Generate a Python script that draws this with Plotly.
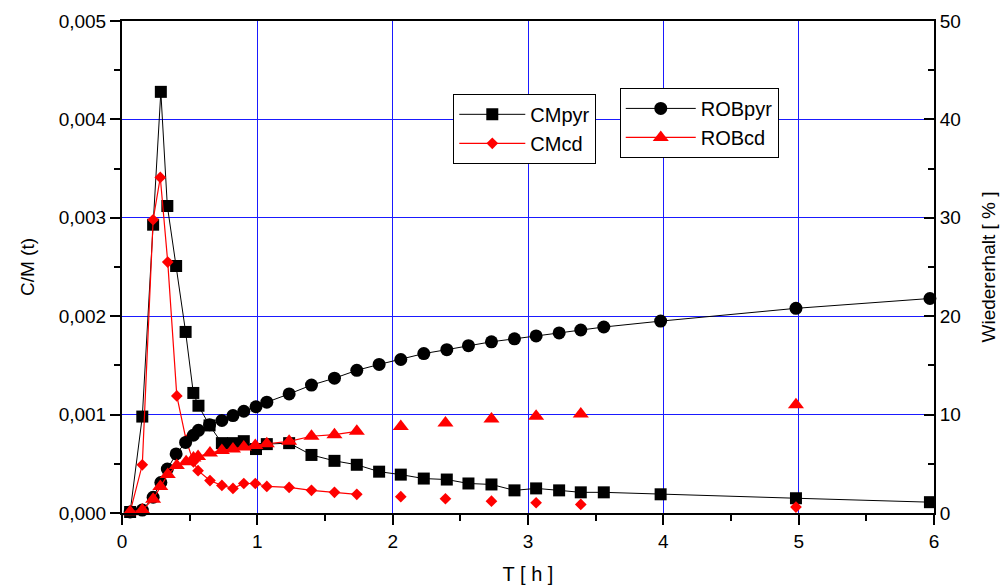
import plotly.graph_objects as go

# ---- data ----
t_pyr = [0.06, 0.15, 0.23, 0.287, 0.335, 0.40, 0.47, 0.527, 0.565, 0.647, 0.738, 0.82,
         0.90, 0.99, 1.07, 1.235, 1.40, 1.57, 1.735, 1.90, 2.06, 2.23, 2.40, 2.56, 2.73,
         2.90, 3.06, 3.23, 3.39, 3.56, 3.98, 4.98, 5.97]
cm_pyr = [0.00001, 0.00098, 0.00293, 0.00428, 0.00312, 0.00251, 0.00184, 0.00122, 0.00109,
          0.00089, 0.00071, 0.00071, 0.00073, 0.00065, 0.00070, 0.00071, 0.00059, 0.00053,
          0.00049, 0.00042, 0.00039, 0.00035, 0.00034, 0.00030, 0.00029, 0.00023, 0.00025,
          0.00023, 0.00021, 0.00021, 0.00019, 0.00015, 0.00011]
rob_pyr = [0.1, 0.3, 1.6, 3.1, 4.46, 6.0, 7.17, 7.9, 8.4, 8.98, 9.4, 9.9, 10.34, 10.8, 11.26,
           12.1, 13.0, 13.7, 14.5, 15.1, 15.6, 16.2, 16.6, 17.0, 17.4, 17.7, 18.0, 18.3,
           18.6, 18.9, 19.5, 20.8, 21.8]

t_cd = [0.06, 0.15, 0.23, 0.283, 0.338, 0.405, 0.474, 0.528, 0.562, 0.65, 0.738, 0.82,
        0.90, 0.985, 1.07, 1.235, 1.40, 1.57, 1.735]
cm_cd = [0.00001, 0.00049, 0.00298, 0.00341, 0.00255, 0.00119, 0.00074, 0.00052, 0.00043,
         0.00033, 0.00028, 0.00025, 0.00030, 0.00030, 0.00027, 0.00026, 0.00023, 0.00021,
         0.00019]
rob_cd = [0.13, 0.3, 1.4, 2.7, 3.9, 4.83, 5.2, 5.6, 5.75, 6.1, 6.36, 6.5, 6.7, 6.87, 7.04,
          7.28, 7.8, 7.96, 8.3]

t_cd_late = [2.06, 2.39, 2.73, 3.06, 3.39, 4.98]
cm_cd_late = [0.000166, 0.000145, 0.00012, 0.000104, 0.000087, 0.00006]
rob_cd_late = [8.8, 9.15, 9.56, 9.84, 10.07, 11.0]

x_ticks = [0, 1, 2, 3, 4, 5, 6]
y_ticks = [0, 0.001, 0.002, 0.003, 0.004, 0.005]
y2_ticks = [0, 10, 20, 30, 40, 50]

RED = "#ff0000"
BLACK = "#000000"
GRID = "#1a1aff"
FONT = "Liberation Sans, Arial, sans-serif"

fig = go.Figure()

fig.add_trace(go.Scatter(
    x=t_pyr, y=cm_pyr, name="CMpyr", mode="lines+markers", legend="legend",
    line=dict(color=BLACK, width=1), marker=dict(symbol="square", size=12, color=BLACK),
    cliponaxis=False))
fig.add_trace(go.Scatter(
    x=t_cd, y=cm_cd, name="CMcd", mode="lines+markers", legend="legend",
    line=dict(color=RED, width=1.2), marker=dict(symbol="diamond", size=9, color=RED),
    cliponaxis=False))
fig.add_trace(go.Scatter(
    x=t_cd_late, y=cm_cd_late, name="CMcd", mode="markers", showlegend=False,
    marker=dict(symbol="diamond", size=9, color=RED), cliponaxis=False))
fig.add_trace(go.Scatter(
    x=t_pyr, y=rob_pyr, name="ROBpyr", mode="lines+markers", yaxis="y2", legend="legend2",
    line=dict(color=BLACK, width=1), marker=dict(symbol="circle", size=13, color=BLACK),
    cliponaxis=False))
fig.add_trace(go.Scatter(
    x=t_cd, y=rob_cd, name="ROBcd", mode="lines+markers", yaxis="y2", legend="legend2",
    line=dict(color=RED, width=1.2), marker=dict(symbol="triangle-up", size=14, color=RED),
    cliponaxis=False))
fig.add_trace(go.Scatter(
    x=t_cd_late, y=rob_cd_late, name="ROBcd", mode="markers", yaxis="y2", showlegend=False,
    marker=dict(symbol="triangle-up", size=14, color=RED), cliponaxis=False))

fig.update_layout(
    width=1000, height=579,
    margin=dict(l=114, r=74, t=13, b=74, autoexpand=False),
    paper_bgcolor="white", plot_bgcolor="white",
    separators=",.",
    font=dict(family=FONT, size=19, color="black"),
    xaxis=dict(
        range=[0, 6], tickvals=x_ticks, ticktext=[str(v) for v in x_ticks],
        showgrid=True, gridcolor=GRID, gridwidth=1.3, automargin=False,
        showline=True, linecolor="black", linewidth=2, mirror=True,
        ticks="outside", ticklen=10, tickwidth=2, tickcolor="black",
        minor=dict(dtick=0.5, ticklen=6, tickwidth=2, tickcolor="black", ticks="outside", showgrid=False),
        zeroline=False,
        title=dict(text="T [ h ]", font=dict(size=20), standoff=16),
        tickfont=dict(size=19),
    ),
    yaxis=dict(
        range=[0, 0.005], tickvals=y_ticks, tickformat=".3f",
        showgrid=True, gridcolor=GRID, gridwidth=1.3, automargin=False,
        showline=True, linecolor="black", linewidth=2,
        ticks="outside", ticklen=10, tickwidth=2, tickcolor="black",
        minor=dict(dtick=0.0005, ticklen=6, tickwidth=2, tickcolor="black", ticks="outside", showgrid=False),
        zeroline=False,
        title=dict(text="C/M (t)", font=dict(size=19), standoff=19),
        tickfont=dict(size=19),
    ),
    yaxis2=dict(
        range=[0, 50], tickvals=y2_ticks, overlaying="y", side="right",
        showgrid=False, automargin=False,
        showline=True, linecolor="black", linewidth=2,
        ticks="inside", ticklen=10, tickwidth=2, tickcolor="black",
        minor=dict(dtick=5, ticklen=6, tickwidth=2, tickcolor="black", ticks="inside", showgrid=False),
        zeroline=False,
        title=dict(text="Wiedererhalt [ % ]", font=dict(size=19), standoff=22),
        tickfont=dict(size=19),
    ),
    legend=dict(
        x=0.408, y=0.852, xanchor="left", yanchor="top",
        bgcolor="white", bordercolor="black", borderwidth=1,
        font=dict(size=20), itemwidth=66, tracegroupgap=0,
    ),
    legend2=dict(
        x=0.613, y=0.864, xanchor="left", yanchor="top",
        bgcolor="white", bordercolor="black", borderwidth=1,
        font=dict(size=20), itemwidth=70, tracegroupgap=0,
    ),
)

fig.write_html("out.html")
